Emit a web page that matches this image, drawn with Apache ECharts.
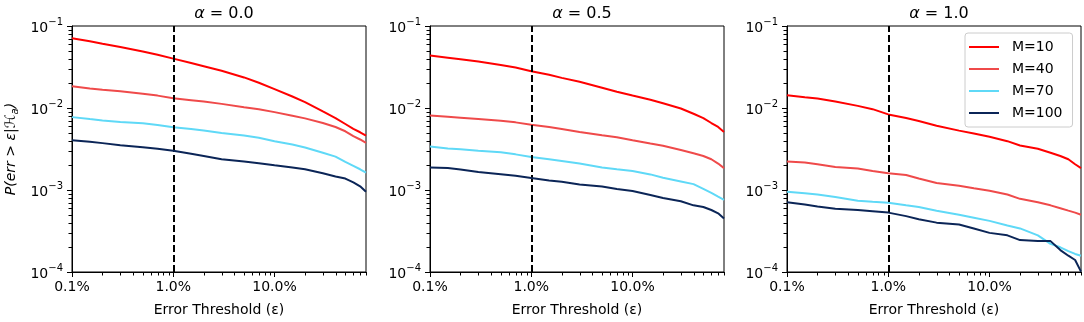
<!DOCTYPE html>
<html>
<head>
<meta charset="utf-8">
<script src="https://cdn.jsdelivr.net/npm/echarts@6/dist/echarts.min.js"></script>
<style>
html,body{margin:0;padding:0;background:#fff;}
#chart{width:1084px;height:322px;}
</style>
</head>
<body>
<div id="chart"></div>
<script>
// ---- data ----
const thresholds = [0.001, 0.0015, 0.002, 0.003, 0.005, 0.007, 0.01, 0.015, 0.02, 0.03, 0.05, 0.07, 0.1, 0.15, 0.2, 0.3, 0.4, 0.5, 0.6, 0.7, 0.8];

const seriesNames = ['M=10', 'M=40', 'M=70', 'M=100'];
const panelTitles = ['0.0', '0.5', '1.0'];

// alpha = 0.0
const a00_M10  = [0.0710,0.0653,0.0607,0.0553,0.0490,0.0447,0.0400,0.0354,0.0323,0.0284,0.0236,0.0203,0.0170,0.0138,0.0118,0.00907,0.00754,0.00638,0.00555,0.00506,0.00461];
const a00_M40  = [0.01836,0.01734,0.01671,0.01596,0.01496,0.01416,0.01315,0.01245,0.01198,0.01123,0.01023,0.00968,0.00891,0.00804,0.00747,0.00656,0.00587,0.00520,0.00453,0.00413,0.00376];
const a00_M70  = [0.00774,0.00732,0.00706,0.00674,0.00650,0.00621,0.00582,0.00555,0.00530,0.00497,0.00462,0.00433,0.00394,0.00359,0.00330,0.00285,0.00255,0.00220,0.00197,0.00179,0.00163];
const a00_M100 = [0.00405,0.00387,0.00373,0.00352,0.00333,0.00318,0.00301,0.00277,0.00260,0.00237,0.00222,0.00212,0.00200,0.00188,0.00179,0.00160,0.00146,0.00138,0.00124,0.00111,0.00095];

// alpha = 0.5
const a05_M10  = [0.0438,0.0411,0.0393,0.0368,0.0335,0.0311,0.0281,0.0254,0.0233,0.0209,0.0177,0.0158,0.0142,0.0126,0.0114,0.00986,0.00851,0.00754,0.00656,0.00587,0.00511];
const a05_M40  = [0.00811,0.00781,0.00760,0.00732,0.00699,0.00668,0.00626,0.00587,0.00555,0.00511,0.00466,0.00441,0.00405,0.00369,0.00346,0.00307,0.00280,0.00260,0.00237,0.00210,0.00185];
const a05_M70  = [0.00340,0.00321,0.00313,0.00301,0.00288,0.00272,0.00253,0.00237,0.00226,0.00210,0.00188,0.00179,0.00170,0.00155,0.00141,0.00127,0.00118,0.00103,0.00092,0.00083,0.00076];
const a05_M100 = [0.00188,0.00185,0.00178,0.00166,0.00156,0.00149,0.00140,0.00131,0.00126,0.00117,0.00110,0.00103,0.00097,0.00087,0.00080,0.00073,0.00065,0.00062,0.00057,0.00052,0.00045];

// alpha = 1.0
const a10_M10  = [0.01429,0.01352,0.01303,0.01198,0.01062,0.00968,0.00835,0.00754,0.00693,0.00609,0.00530,0.00488,0.00445,0.00394,0.00349,0.00318,0.00285,0.00260,0.00237,0.00206,0.00185];
const a10_M40  = [0.00222,0.00216,0.00206,0.00191,0.00183,0.00171,0.00160,0.00152,0.00138,0.00122,0.00113,0.00105,0.00098,0.00088,0.00078,0.00071,0.00065,0.00060,0.00056,0.00053,0.00050];
const a10_M70  = [0.00095,0.00091,0.00088,0.00082,0.00074,0.00072,0.00070,0.00065,0.00062,0.00056,0.00050,0.00046,0.00042,0.00037,0.00034,0.00028,0.00022,0.00020,0.00018,0.000166,0.000158];
const a10_M100 = [0.00071,0.000665,0.00063,0.00059,0.00057,0.00055,0.00053,0.00048,0.00044,0.00040,0.00038,0.00034,0.00030,0.00028,0.000245,0.000238,0.000238,0.000185,0.000158,0.00014,0.000101];

const xTickValues = [0.001, 0.01, 0.1];
const xTickLabels = ['0.1%', '1.0%', '10.0%'];
const yTickExponents = [-4, -3, -2, -1];
const xMinorTicks = [0.002,0.003,0.004,0.005,0.006,0.007,0.008,0.009,0.02,0.03,0.04,0.05,0.06,0.07,0.08,0.09,0.2,0.3,0.4,0.5,0.6,0.7,0.8];
const yMinorTicks = [0.0002,0.0003,0.0004,0.0005,0.0006,0.0007,0.0008,0.0009,0.002,0.003,0.004,0.005,0.006,0.007,0.008,0.009,0.02,0.03,0.04,0.05,0.06,0.07,0.08,0.09];
const thresholdLine = 0.01;

const panels = [
  [a00_M10, a00_M40, a00_M70, a00_M100],
  [a05_M10, a05_M40, a05_M70, a05_M100],
  [a10_M10, a10_M40, a10_M70, a10_M100]
];
// ---- style ----
const colors = ['#ff0000', '#ef4a4a', '#5fd9f7', '#0b2557'];
const FONT = 'DejaVu Sans';
const gridLefts = [72, 430, 787];
const gridTop = 26, gridW = 294, gridH = 248;
const X_MIN = 0.001, X_MAX = 0.8, Y_MIN = 0.0001, Y_MAX = 0.1;
const MINOR_LEN = 3.5;

const chart = echarts.init(document.getElementById('chart'), null, {renderer: 'canvas'});

const grids = [], xAxes = [], yAxes = [], series = [], titles = [];

function xFmt(v) {
  for (let i = 0; i < xTickValues.length; i++) {
    if (Math.abs(Math.log10(v) - Math.log10(xTickValues[i])) < 1e-6) return xTickLabels[i];
  }
  return '';
}
function yFmt(v) {
  const e = Math.round(Math.log10(v));
  if (yTickExponents.indexOf(e) < 0) return '';
  return '{b|10}{s|\u2212' + Math.abs(e) + '}';
}
function minorRender(params, api) {
  const pt = api.coord([api.value(0), api.value(1)]);
  const kind = api.value(2);
  let shape;
  if (kind < 0.5) {
    const x = Math.round(pt[0]) + 0.5;
    const y0 = Math.round(pt[1]);
    shape = {x1: x, y1: y0, x2: x, y2: y0 + MINOR_LEN};
  } else {
    const y = Math.round(pt[1]) + 0.5;
    const x0 = Math.round(pt[0]);
    shape = {x1: x0, y1: y, x2: x0 - MINOR_LEN, y2: y};
  }
  return {type: 'line', shape: shape, style: {stroke: '#000', lineWidth: 1}};
}

panels.forEach((panel, p) => {
  grids.push({left: gridLefts[p], top: gridTop, width: gridW, height: gridH,
    show: true, borderColor: '#000', borderWidth: 1, backgroundColor: 'transparent'});
  xAxes.push({
    type: 'log', logBase: 10, gridIndex: p, min: X_MIN, max: X_MAX,
    splitLine: {show: false},
    axisLine: {lineStyle: {color: '#000', width: 1}},
    axisTick: {length: 5, lineStyle: {color: '#000', width: 1}},
    axisLabel: {formatter: xFmt, color: '#000', fontFamily: FONT, fontSize: 14, margin: 8, showMaxLabel: false},
    name: 'Error Threshold (\u03b5)',
    nameLocation: 'middle', nameGap: 31,
    nameTextStyle: {color: '#000', fontFamily: FONT, fontSize: 14}
  });
  const yAx = {
    type: 'log', logBase: 10, gridIndex: p, min: Y_MIN, max: Y_MAX,
    splitLine: {show: false},
    axisLine: {lineStyle: {color: '#000', width: 1}},
    axisTick: {length: 5, lineStyle: {color: '#000', width: 1}},
    axisLabel: {formatter: yFmt, color: '#000', fontFamily: FONT, margin: 9,
      rich: {
        b: {fontSize: 14, fontFamily: FONT, color: '#000', verticalAlign: 'bottom', lineHeight: 18},
        s: {fontSize: 10, fontFamily: FONT, color: '#000', verticalAlign: 'top', lineHeight: 18}
      }}
  };
  if (p === 0) {
    yAx.name = '{i|P(err > \u03b5|\u210b}{sub|a}{i|)}';
    yAx.nameLocation = 'middle';
    yAx.nameGap = 52;
    yAx.nameTextStyle = {fontFamily: FONT, color: '#000',
      rich: {
        i: {fontSize: 14, fontStyle: 'italic', fontFamily: FONT, color: '#000', lineHeight: 18, verticalAlign: 'middle'},
        sub: {fontSize: 10, fontStyle: 'italic', fontFamily: FONT, color: '#000', lineHeight: 18, verticalAlign: 'bottom', padding: [6, 0, 0, 0]}
      }};
  }
  yAxes.push(yAx);

  titles.push({
    text: '{i|\u03b1} = ' + panelTitles[p],
    left: gridLefts[p] + gridW / 2, top: 1, textAlign: 'center',
    textStyle: {fontFamily: FONT, fontSize: 16, fontWeight: 'normal', color: '#000',
      rich: {i: {fontStyle: 'italic', fontFamily: FONT, fontSize: 16, color: '#000'}}}
  });

  panel.forEach((arr, m) => {
    const s = {
      type: 'line', name: seriesNames[m], xAxisIndex: p, yAxisIndex: p,
      data: thresholds.map((x, i) => [x, arr[i]]),
      showSymbol: false, symbol: 'none', smooth: false,
      lineStyle: {color: colors[m], width: 2},
      itemStyle: {color: colors[m]},
      emphasis: {disabled: true}, animation: false, z: 2 + m
    };
    if (m === panel.length - 1) {
      s.markLine = {
        silent: true, symbol: 'none', animation: false,
        label: {show: false},
        lineStyle: {color: '#000', type: [7, 3], width: 2},
        data: [{xAxis: thresholdLine}]
      };
    }
    series.push(s);
  });

  // minor ticks drawn through the axis scales
  const minorData = xMinorTicks.map(v => [v, Y_MIN, 0]).concat(yMinorTicks.map(v => [X_MIN, v, 1]));
  series.push({
    type: 'custom', name: 'minor' + p, xAxisIndex: p, yAxisIndex: p, clip: false,
    silent: true, data: minorData, renderItem: minorRender
  });
});

chart.setOption({
  animation: false,
  backgroundColor: '#fff',
  title: titles,
  grid: grids,
  xAxis: xAxes,
  yAxis: yAxes,
  legend: {
    data: seriesNames, orient: 'vertical',
    left: 965, top: 33,
    icon: 'rect', itemWidth: 30, itemHeight: 2, itemGap: 6,
    padding: [6, 10, 6, 4],
    borderColor: '#cccccc', borderWidth: 1, borderRadius: 3,
    backgroundColor: 'rgba(255,255,255,0.8)',
    textStyle: {fontFamily: FONT, fontSize: 14, color: '#000', lineHeight: 16, padding: [0, 0, 0, 8]},
    selectedMode: false
  },
  series: series
});
</script>
</body>
</html>
